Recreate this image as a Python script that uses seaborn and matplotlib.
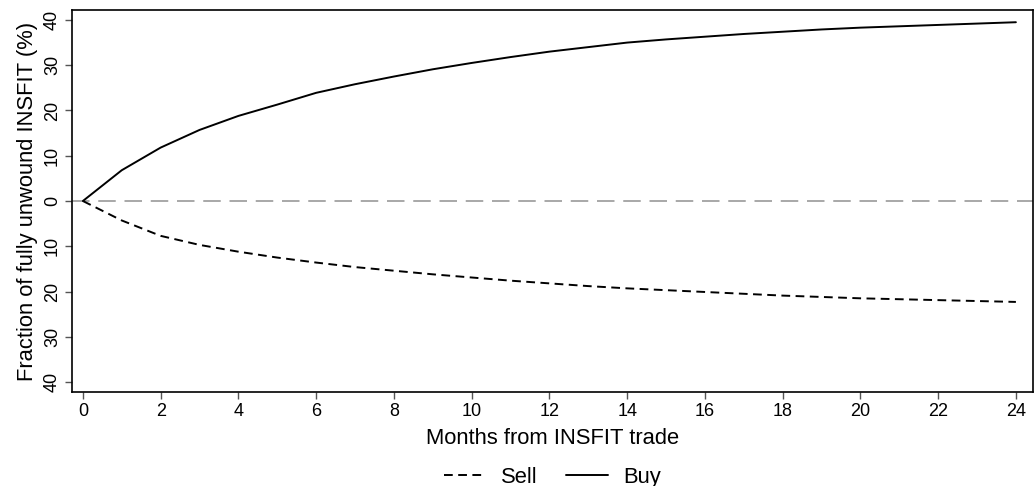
import matplotlib
matplotlib.use("Agg")
import matplotlib.pyplot as plt
import seaborn as sns
import pandas as pd
import numpy as np

months = list(range(0, 25))
buy = [0.0, 6.8, 11.8, 15.7, 18.8, 21.3, 23.9, 25.8, 27.5, 29.1, 30.5, 31.8, 33.0,
       34.0, 35.0, 35.7, 36.3, 36.9, 37.4, 37.9, 38.3, 38.6, 38.9, 39.2, 39.5]
sell = [0.0, -4.3, -7.7, -9.7, -11.2, -12.5, -13.6, -14.6, -15.4, -16.2, -16.9, -17.6, -18.2,
        -18.8, -19.3, -19.7, -20.1, -20.5, -20.9, -21.2, -21.5, -21.7, -21.9, -22.1, -22.3]
xticks = list(range(0, 25, 2))
yticks = [-40, -30, -20, -10, 0, 10, 20, 30, 40]
yticklabels = ["40", "30", "20", "10", "0", "10", "20", "30", "40"]

sns.set_theme(style="white")
plt.rcParams['font.family'] = ['Liberation Sans', 'DejaVu Sans']
plt.rcParams['text.color'] = 'black'
plt.rcParams['axes.labelcolor'] = 'black'
plt.rcParams['xtick.color'] = 'black'
plt.rcParams['ytick.color'] = 'black'

fig = plt.figure(figsize=(10.34, 4.86), dpi=100)
ax = fig.add_axes([72 / 1034, 1 - 392 / 486, (1033 - 72) / 1034, (392 - 10) / 486])

df_sell = pd.DataFrame({"month": months, "value": sell})
df_buy = pd.DataFrame({"month": months, "value": buy})

ax.axhline(0, color="#a8a8a8", lw=1.4, dashes=(9, 4.5), zorder=1)
sns.lineplot(data=df_sell, x="month", y="value", ax=ax, color="black", lw=1.4,
             label="Sell")
ax.lines[-1].set_dashes((4.5, 2.8))
sns.lineplot(data=df_buy, x="month", y="value", ax=ax, color="black", lw=1.4,
             label="Buy")

ax.set_xlim(-0.28, 24.44)
ax.set_ylim(-42.2, 42.2)
ax.set_xticks(xticks)
ax.set_xticklabels([str(t) for t in xticks], fontsize=13)
ax.set_yticks(yticks)
ax.set_yticklabels(yticklabels, fontsize=13, rotation=90, va="center")
ax.tick_params(axis="both", which="major", direction="out", length=5, width=1,
               color="#555555", labelcolor="black", bottom=True, left=True, pad=3)
for s in ax.spines.values():
    s.set_color("black")
    s.set_linewidth(1.2)

ax.set_xlabel("Months from INSFIT trade", fontsize=15.8, labelpad=6)
ax.set_ylabel("Fraction of fully unwound INSFIT (%)", fontsize=15.8, labelpad=4)

ax.legend(loc="upper center", bbox_to_anchor=(0.5, -0.196), ncol=2, frameon=False,
          fontsize=15.8, handlelength=1.9, handletextpad=0.7, columnspacing=1.3,
          borderaxespad=0, borderpad=0)

fig.savefig("out.png", dpi=100)
